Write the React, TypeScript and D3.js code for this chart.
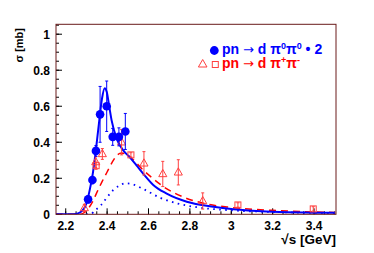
import React from "react";
import * as d3 from "d3";

// ---- data ----
const xTicks = [2.2, 2.4, 2.6, 2.8, 3, 3.2, 3.4];
const xTickLabels = ["2.2", "2.4", "2.6", "2.8", "3", "3.2", "3.4"];
const yTicks = [0, 0.2, 0.4, 0.6, 0.8, 1];
const yTickLabels = ["0", "0.2", "0.4", "0.6", "0.8", "1"];

// pn -> d pi0 pi0 * 2 (filled circles)
const pi0X = [2.308, 2.329, 2.346, 2.366, 2.398, 2.427, 2.457, 2.488];
const pi0Y = [0.083, 0.19, 0.352, 0.555, 0.6, 0.43, 0.43, 0.46];
const pi0Err = [0.02, 0.02, 0.03, 0.155, 0.14, 0.047, 0.05, 0.1];

// pn -> d pi+ pi- (open triangles)
const triX = [2.29, 2.345, 2.377, 2.47, 2.578, 2.669, 2.744, 2.862];
const triY = [0.035, 0.29, 0.335, 0.4, 0.283, 0.224, 0.233, 0.074];
const triErr = [0.02, 0.03, 0.03, 0.07, 0.065, 0.07, 0.07, 0.045];

// pn -> d pi+ pi- (open squares)
const sqX = [2.347, 2.515, 3.032, 3.396];
const sqY = [0.27, 0.33, 0.052, 0.03];
const sqErr = [0.02, 0.012, 0.012, 0.012];

// solid blue curve
const solidX = [2.153, 2.24, 2.26, 2.28, 2.3, 2.315, 2.33, 2.345, 2.36, 2.375, 2.388, 2.398, 2.41, 2.422, 2.446, 2.478, 2.511, 2.543, 2.575, 2.623, 2.688, 2.785, 2.913, 3.01, 3.17, 3.5];
const solidY = [0, 0, 0.005, 0.02, 0.06, 0.13, 0.22, 0.35, 0.5, 0.64, 0.7, 0.68, 0.6, 0.52, 0.42, 0.355, 0.315, 0.27, 0.225, 0.163, 0.115, 0.07, 0.042, 0.028, 0.016, 0.008];

// dashed red curve
const dashX = [2.153, 2.27, 2.29, 2.3, 2.33, 2.35, 2.375, 2.4, 2.425, 2.45, 2.47, 2.49, 2.52, 2.575, 2.62, 2.67, 2.77, 2.87, 3.0, 3.2, 3.5];
const dashY = [0, 0, 0.01, 0.02, 0.07, 0.12, 0.18, 0.235, 0.29, 0.33, 0.34, 0.335, 0.31, 0.245, 0.2, 0.155, 0.095, 0.06, 0.038, 0.022, 0.01];

// dotted blue curve
const dotX = [2.3, 2.32, 2.34, 2.37, 2.4, 2.43, 2.46, 2.49, 2.52, 2.575, 2.66, 2.74, 2.83, 3.0, 3.2, 3.5];
const dotY = [0, 0.0, 0.02, 0.05, 0.095, 0.135, 0.16, 0.172, 0.168, 0.14, 0.09, 0.06, 0.04, 0.022, 0.013, 0.006];

const BLUE = "#0000ff";
const RED = "#ff0000";
const RED_M = "#ff4040";
const FRAME = "#6a1b1b";

export default function App() {
  const W = 374, H = 253;
  const L = 56, R = 336, T = 24.3, B = 214.3;
  const x = d3.scaleLinear().domain([2.153, 3.506]).range([L, R]);
  const y = d3.scaleLinear().domain([0, 1.055]).range([B, T]);

  const line = d3
    .line<[number, number]>()
    .x((d) => x(d[0]))
    .y((d) => y(d[1]))
    .curve(d3.curveMonotoneX);

  const zip = (a: number[], b: number[]) => a.map((v, i) => [v, b[i]] as [number, number]);

  const xMinor = d3.range(2.2, 3.5001, 0.05);
  const yMinor = d3.range(0, 1.0501, 0.05);

  const font = "'Liberation Sans', Arial, Helvetica, sans-serif";
  const arrowFont = "'DejaVu Sans', sans-serif";

  const errBar = (cx: number, cy: number, e: number, color: string, key: string) => (
    <g key={key} stroke={color} strokeWidth={1}>
      <line x1={x(cx)} x2={x(cx)} y1={y(cy + e)} y2={y(cy - e)} />
      <line x1={x(cx) - 1.5} x2={x(cx) + 1.5} y1={y(cy + e)} y2={y(cy + e)} />
      <line x1={x(cx) - 1.5} x2={x(cx) + 1.5} y1={y(cy - e)} y2={y(cy - e)} />
    </g>
  );

  const tri = (cx: number, cy: number, s: number) => {
    const px = x(cx), py = y(cy);
    return `M${px},${py - s} L${px + s * 0.9},${py + s * 0.6} L${px - s * 0.9},${py + s * 0.6} Z`;
  };

  return (
    <svg
      width={W}
      height={H}
      style={{ position: "fixed", left: 0, top: 0, background: "#fff" }}
      fontFamily={font}
    >
      <rect x={0} y={0} width={W} height={H} fill="#fff" />
      <clipPath id="frame">
        <rect x={L} y={T} width={R - L} height={B - T} />
      </clipPath>

      {/* ticks */}
      <g stroke="#000" strokeWidth={1}>
        {xMinor.map((v, i) => (
          <line key={"xm" + i} x1={x(v)} x2={x(v)} y1={B} y2={B - 3} />
        ))}
        {xTicks.map((v, i) => (
          <line key={"xM" + i} x1={x(v)} x2={x(v)} y1={B} y2={B - 6} />
        ))}
        {yMinor.map((v, i) => (
          <line key={"ym" + i} x1={L} x2={L + 3} y1={y(v)} y2={y(v)} />
        ))}
        {yTicks.map((v, i) => (
          <line key={"yM" + i} x1={L} x2={L + 6} y1={y(v)} y2={y(v)} />
        ))}
      </g>

      {/* curves */}
      <g clipPath="url(#frame)" fill="none">
        <path d={line(zip(dotX, dotY)) || ""} stroke={BLUE} strokeWidth={1.8} strokeDasharray="1.6 4.4" />
        <path d={line(zip(dashX, dashY)) || ""} stroke={RED} strokeWidth={1.5} strokeDasharray="7 5" />
        <path d={line(zip(solidX, solidY)) || ""} stroke={BLUE} strokeWidth={2} />
      </g>

      {/* red data */}
      {triX.map((v, i) => errBar(v, triY[i], triErr[i], RED_M, "te" + i))}
      {sqX.map((v, i) => errBar(v, sqY[i], sqErr[i], RED_M, "se" + i))}
      {triX.map((v, i) => (
        <path key={"t" + i} d={tri(v, triY[i], 4.5)} fill="none" stroke={RED_M} strokeWidth={1} />
      ))}
      {sqX.map((v, i) => (
        <rect key={"s" + i} x={x(v) - 3} y={y(sqY[i]) - 3} width={6} height={6} fill="none" stroke={RED_M} strokeWidth={1} />
      ))}

      {/* blue data */}
      {pi0X.map((v, i) => errBar(v, pi0Y[i], pi0Err[i], BLUE, "be" + i))}
      {pi0X.map((v, i) => (
        <circle key={"c" + i} cx={x(v)} cy={y(pi0Y[i])} r={4.3} fill={BLUE} />
      ))}

      {/* frame */}
      <rect x={L} y={T} width={R - L} height={B - T} fill="none" stroke={FRAME} strokeWidth={1} />

      {/* tick labels */}
      <g fontSize={12} fontWeight="bold" fill="#000">
        {xTicks.map((v, i) => (
          <text key={"xl" + i} x={x(v)} y={229.5} textAnchor="middle">
            {xTickLabels[i]}
          </text>
        ))}
        {yTicks.map((v, i) => (
          <text key={"yl" + i} x={50} y={y(v) + 4.3} textAnchor="end">
            {yTickLabels[i]}
          </text>
        ))}
      </g>

      {/* axis titles */}
      <text x={336} y={244} textAnchor="end" fontSize={13.5} fontWeight="bold" fill="#000">
        √s [GeV]
      </text>
      <text
        transform="translate(23,28) rotate(-90)"
        textAnchor="end"
        fontSize={11}
        fontWeight="bold"
        fill="#000"
      >
        σ [mb]
      </text>

      {/* legend */}
      <circle cx={214.3} cy={50.5} r={4.4} fill={BLUE} />
      <text x={222} y={53.5} fontSize={14} fontWeight="bold" fill={BLUE}>
        pn <tspan fontFamily={arrowFont} fontWeight="normal" fontSize={13}>→</tspan> d π
        <tspan fontSize={9} dy={-5}>0</tspan>
        <tspan dy={5}>π</tspan>
        <tspan fontSize={9} dy={-5}>0</tspan>
        <tspan dy={5}> • 2</tspan>
      </text>
      <path
        d={`M202.7,59.5 L207,67 L198.4,67 Z`}
        fill="none"
        stroke={RED_M}
        strokeWidth={1}
      />
      <rect x={212.3} y={61.5} width={6} height={6} fill="none" stroke={RED_M} strokeWidth={1} />
      <text x={222} y={68} fontSize={14} fontWeight="bold" fill={RED}>
        pn <tspan fontFamily={arrowFont} fontWeight="normal" fontSize={13}>→</tspan> d π
        <tspan fontSize={9} dy={-5}>+</tspan>
        <tspan dy={5}>π</tspan>
        <tspan fontSize={9} dy={-5}>-</tspan>
      </text>
    </svg>
  );
}
